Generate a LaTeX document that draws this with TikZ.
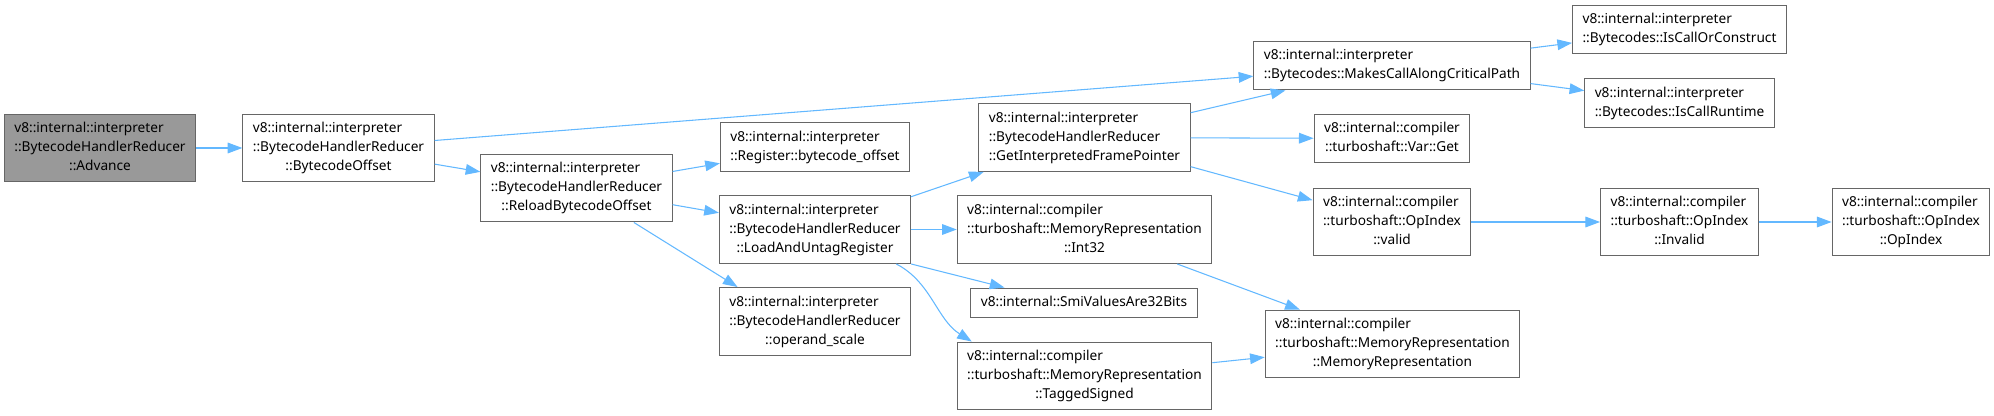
\documentclass[tikz,border=0pt]{standalone}
\usepackage{fontspec}
\setmainfont{Noto Sans}
\usetikzlibrary{arrows.meta,calc}
\definecolor{edgecol}{HTML}{63B8FF}
\definecolor{boxline}{HTML}{666666}
\definecolor{hifill}{HTML}{999999}
\renewcommand{\arraystretch}{1}
\newcommand{\fnone}[1]{\begin{tabular}{@{}c@{}}#1\end{tabular}}
\newcommand{\fntwo}[2]{\begin{tabular}{@{}l@{}}#1\\\multicolumn{1}{@{}c@{}}{#2}\end{tabular}}
\newcommand{\fnthree}[3]{\begin{tabular}{@{}l@{}}#1\\#2\\\multicolumn{1}{@{}c@{}}{#3}\end{tabular}}

\begin{document}
\begin{tikzpicture}[x=0.75pt,y=-0.75pt,
  fn/.style={draw=boxline,fill=white,line width=0.75pt,inner xsep=7.5pt,inner ysep=4.1pt,
    font=\fontsize{10.25}{14.25}\selectfont},
  fnhi/.style={fn,fill=hifill},
  call/.style={draw=edgecol,line width=0.8pt,-{Triangle[length=11pt,width=8pt]}}]
\useasboundingbox (0,0) rectangle (1994,416);
% caller chain
\node[fnhi] (adv) at (100,148) {\fnthree{v8::internal::interpreter}{::BytecodeHandlerReducer}{::Advance}};
\node[fn] (bco) at (338.5,148) {\fnthree{v8::internal::interpreter}{::BytecodeHandlerReducer}{::BytecodeOffset}};
\node[fn] (rbo) at (576.5,188) {\fnthree{v8::internal::interpreter}{::BytecodeHandlerReducer}{::ReloadBytecodeOffset}};
% column 4
\node[fn] (rbc) at (815,147) {\fntwo{v8::internal::interpreter}{::Register::bytecode\_offset}};
\node[fn] (lur) at (815,229.5) {\fnthree{v8::internal::interpreter}{::BytecodeHandlerReducer}{::LoadAndUntagRegister}};
\node[fn] (osc) at (815,321.5) {\fnthree{v8::internal::interpreter}{::BytecodeHandlerReducer}{::operand\_scale}};
% column 5
\node[fn] (gif) at (1084.5,137.5) {\fnthree{v8::internal::interpreter}{::BytecodeHandlerReducer}{::GetInterpretedFramePointer}};
\node[fn] (i32) at (1084.5,229.5) {\fnthree{v8::internal::compiler}{::turboshaft::MemoryRepresentation}{::Int32}};
\node[fn] (smi) at (1084,303) {\fnone{v8::internal::SmiValuesAre32Bits}};
\node[fn] (tsg) at (1084.5,376) {\fnthree{v8::internal::compiler}{::turboshaft::MemoryRepresentation}{::TaggedSigned}};
% column 6
\node[fn] (mca) at (1392,65.5) {\fntwo{v8::internal::interpreter}{::Bytecodes::MakesCallAlongCriticalPath}};
\node[fn] (vget) at (1392,138.5) {\fntwo{v8::internal::compiler}{::turboshaft::Var::Get}};
\node[fn] (vld) at (1392,222) {\fnthree{v8::internal::compiler}{::turboshaft::OpIndex}{::valid}};
\node[fn] (mrp) at (1392.5,344) {\fnthree{v8::internal::compiler}{::turboshaft::MemoryRepresentation}{::MemoryRepresentation}};
% right end
\node[fn] (icc) at (1679.5,29.5) {\fntwo{v8::internal::interpreter}{::Bytecodes::IsCallOrConstruct}};
\node[fn] (icr) at (1679.5,103) {\fntwo{v8::internal::interpreter}{::Bytecodes::IsCallRuntime}};
\node[fn] (inv) at (1679.5,222) {\fnthree{v8::internal::compiler}{::turboshaft::OpIndex}{::Invalid}};
\node[fn] (opi) at (1911,222) {\fnthree{v8::internal::compiler}{::turboshaft::OpIndex}{::OpIndex}};
% calls
\draw[call] (adv) -- (bco);
\draw[call] (bco) -- (mca);
\draw[call] (bco) -- (rbo);
\draw[call] (rbo) -- (rbc);
\draw[call] (rbo) -- (lur);
\draw[call] (rbo.-31.5) -- (osc.156);
\draw[call] (lur) -- (gif);
\draw[call] (lur) -- (i32);
\draw[call] (lur.south east) -- (smi.169);
\draw[call] (lur.-23) .. controls +(35,18) and +(-35,-22) .. (tsg.163);
\draw[call] (gif) -- (mca);
\draw[call] (gif) -- (vget);
\draw[call] (gif) -- (vld);
\draw[call] (i32) -- (mrp);
\draw[call] (tsg) -- (mrp);
\draw[call] (mca) -- (icc);
\draw[call] (mca) -- (icr);
\draw[call] (vld) -- (inv);
\draw[call] (inv) -- (opi);
\end{tikzpicture}
\end{document}
